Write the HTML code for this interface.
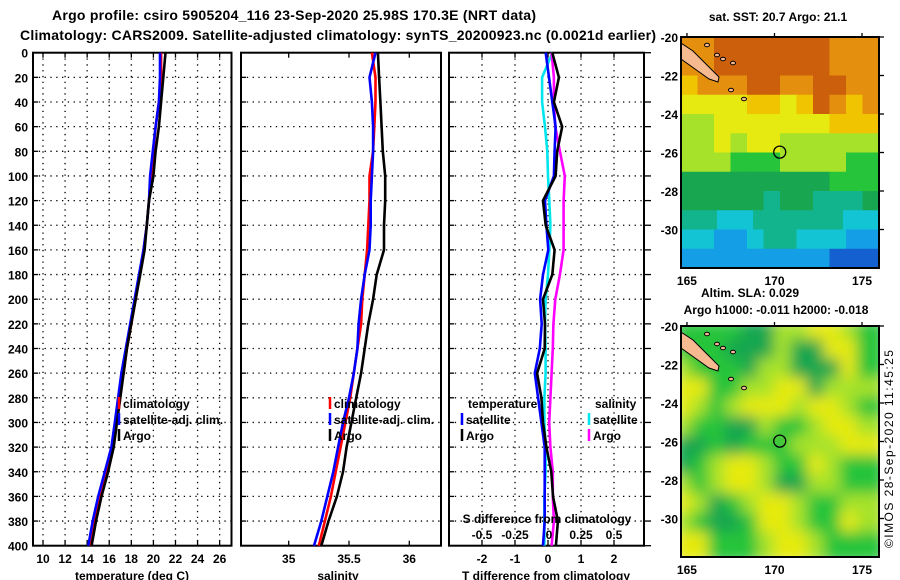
<!DOCTYPE html>
<html><head><meta charset="utf-8"><style>
html,body{margin:0;padding:0;background:#fff;}
svg{display:block;font-family:"Liberation Sans",sans-serif;font-weight:bold;}
</style></head><body>
<svg id="s" width="900" height="580" viewBox="0 0 900 580" xmlns="http://www.w3.org/2000/svg">
<text x="294" y="20" font-size="14" text-anchor="middle" textLength="484">Argo profile: csiro 5905204_116 23-Sep-2020 25.98S 170.3E (NRT data)</text>
<text x="338" y="40" font-size="14" text-anchor="middle" textLength="636">Climatology: CARS2009. Satellite-adjusted climatology: synTS_20200923.nc (0.0021d earlier)</text>
<g id="plots"></g>
<g id="maps"></g>
<text transform="translate(893,548) rotate(-90)" font-size="12" font-weight="normal" textLength="198">©IMOS 28-Sep-2020 11:45:25</text>
</svg>
<script>
// ---- data ----
const depths=[0,20,40,60,80,100,120,140,160,180,200,220,240,260,280,300,320,340,360,380,400];
const tempClim=[20.7,20.7,20.5,20.2,20.0,19.8,19.6,19.4,19.1,18.75,18.4,18.0,17.6,17.3,16.9,16.6,16.3,15.7,15.1,14.6,14.3];
const tempSat=[20.6,20.6,20.5,20.2,19.95,19.7,19.6,19.4,19.1,18.7,18.3,17.9,17.5,17.1,16.8,16.5,16.2,15.6,15.0,14.5,14.1];
const tempArgo=[21.1,20.9,20.7,20.5,20.2,20.0,19.6,19.4,19.2,18.8,18.4,18.0,17.6,17.3,17.0,16.7,16.4,15.9,15.3,14.8,14.4];
const salClim=[35.69,35.72,35.72,35.71,35.70,35.67,35.67,35.66,35.65,35.63,35.61,35.60,35.57,35.54,35.51,35.47,35.43,35.39,35.35,35.30,35.25];
const salSat=[35.72,35.67,35.69,35.70,35.70,35.69,35.68,35.68,35.67,35.63,35.60,35.58,35.57,35.54,35.50,35.45,35.41,35.37,35.32,35.27,35.21];
const salArgo=[35.74,35.75,35.76,35.77,35.78,35.80,35.80,35.79,35.79,35.73,35.70,35.66,35.63,35.60,35.56,35.52,35.48,35.45,35.40,35.33,35.27];
const tDiffSat=[-0.07,0.03,0.13,0.23,0.2,0.18,-0.09,-0.05,0.01,-0.15,-0.24,-0.19,-0.25,-0.4,-0.3,-0.2,-0.1,-0.1,-0.1,-0.1,-0.15];
const tDiffArgo=[0.13,0.33,0.18,0.43,0.28,0.23,-0.15,-0.07,0.2,0.13,-0.15,-0.09,-0.1,-0.33,-0.2,-0.15,-0.05,0.1,0.15,0.3,0.24];
const sDiffSat=[0.033,-0.045,-0.045,-0.023,-0.005,0,0.01,0.018,0.01,0,-0.018,-0.023,-0.018,-0.018,-0.027,-0.027,-0.018,-0.018,-0.027,-0.027,-0.027];
const sDiffArgo=[0.027,0.045,0.045,0.055,0.09,0.127,0.118,0.118,0.118,0.09,0.055,0.041,0.036,0.027,0.018,0.009,0.018,0.036,0.036,0.045,0.027];
const depthTicks=[0,20,40,60,80,100,120,140,160,180,200,220,240,260,280,300,320,340,360,380,400];
const tempTicks=[10,12,14,16,18,20,22,24,26];
const salTicks=[35,35.5,36];
const salTickLabels=["35","35.5","36"];
const tdTicks=[-2,-1,0,1,2];
const sdTicks=[-0.5,-0.25,0,0.25,0.5];
const sdTickLabels=["-0.5","-0.25","0","0.25","0.5"];
// ---- axes ----
const NS="http://www.w3.org/2000/svg";
const Y0=52.7,Y1=545.7;
const yD=d=>Y0+d*(Y1-Y0)/400;
const xT=t=>43+(t-10)*11.04;
const xS=s=>288.7+(s-35)*120.6;
const xTD=v=>548+v*33;
const xSD=v=>548+v*132;
const plots=document.getElementById('plots');
function mk(tag,attrs,parent){const e=document.createElementNS(NS,tag);for(const k in attrs)e.setAttribute(k,attrs[k]);(parent||plots).appendChild(e);return e;}
function txt(x,y,s,anchor,size,parent){const e=mk('text',{x:x,y:y,'font-size':size||12,'text-anchor':anchor||'start'},parent);e.textContent=s;return e;}
function panel(x0,x1,name,vgrid){
  const g=mk('g',{});
  
  
  depthTicks.forEach(d=>{if(d>0&&d<400){mk('line',{x1:x0,x2:x1,y1:yD(d),y2:yD(d),stroke:'#000','stroke-width':1.3,'stroke-dasharray':'1.3 4.5'},g);
    mk('line',{x1:x0,x2:x0+5,y1:yD(d),y2:yD(d),stroke:'#000','stroke-width':1.3},g);}});
  vgrid.forEach(x=>{mk('line',{x1:x,x2:x,y1:Y0,y2:Y1,stroke:'#000','stroke-width':1.3,'stroke-dasharray':'1.3 4.5'},g);
    mk('line',{x1:x,x2:x,y1:Y0,y2:Y0+5,stroke:'#000','stroke-width':1.3},g);mk('line',{x1:x,x2:x,y1:Y1,y2:Y1-5,stroke:'#000','stroke-width':1.3},g);});
  mk('rect',{x:x0,y:Y0,width:x1-x0,height:Y1-Y0,fill:'none',stroke:'#000','stroke-width':2},g);
  return g;
}
function series(arr,xf,color,name,g){
  const pts=arr.map((v,i)=>xf(v).toFixed(1)+','+yD(depths[i]).toFixed(1)).join(' ');
  const p=mk('polyline',{points:pts,fill:'none',stroke:color,'stroke-width':2.6,'stroke-linejoin':'miter'},g);
  
  
}
function legendEntry(x,y,color,label,g,name){
  const e=mk('g',{},g);
  
  
  mk('line',{x1:x,x2:x,y1:y-11,y2:y+1,stroke:color,'stroke-width':2.5},e);
  txt(x+4,y,label,'start',12,e);
}
// panel 1
const g1=panel(33,231.5,'temperature-panel',tempTicks.map(xT));
series(tempClim,xT,'#ff0000','temp-climatology-line',g1);
series(tempSat,xT,'#0000ff','temp-satellite-line',g1);
series(tempArgo,xT,'#000000','temp-argo-line',g1);
depthTicks.forEach(d=>{const t=txt(28,yD(d)+5,String(d),'end',12);});
tempTicks.forEach(t=>{const e=txt(xT(t),563,String(t),'middle',12);});
const xt1=txt(132,580,'temperature (deg C)','middle',12);
legendEntry(119,408,'#ff0000','climatology',g1,'legend-climatology');
legendEntry(119,424,'#0000ff','satellite-adj. clim.',g1,'legend-satellite-adj');
legendEntry(119,440,'#000000','Argo',g1,'legend-argo');
// panel 2
const g2=panel(241,441,'salinity-panel',[]);
salTicks.forEach(s=>{mk('line',{x1:xS(s),x2:xS(s),y1:Y0,y2:Y0+5,stroke:'#000','stroke-width':1.3},g2);mk('line',{x1:xS(s),x2:xS(s),y1:Y1,y2:Y1-5,stroke:'#000','stroke-width':1.3},g2);});
series(salClim,xS,'#ff0000','sal-climatology-line',g2);
series(salSat,xS,'#0000ff','sal-satellite-line',g2);
series(salArgo,xS,'#000000','sal-argo-line',g2);
salTicks.forEach((s,i)=>{const e=txt(xS(s),563,salTickLabels[i],'middle',12);});
const xt2=txt(338,580,'salinity','middle',12);
legendEntry(330,408,'#ff0000','climatology',g2,'legend-climatology-2');
legendEntry(330,424,'#0000ff','satellite-adj. clim.',g2,'legend-satellite-adj-2');
legendEntry(330,440,'#000000','Argo',g2,'legend-argo-2');
// panel 3
const g3=panel(449,644,'difference-panel',tdTicks.map(xTD));
depthTicks.forEach(d=>{mk('line',{x1:644,x2:651,y1:yD(d),y2:yD(d),stroke:'#000','stroke-width':1.3},g3);});
series(sDiffSat,xSD,'#00e5ee','sdiff-satellite-line',g3);
series(sDiffArgo,xSD,'#ff00ff','sdiff-argo-line',g3);
series(tDiffSat,xTD,'#0000ff','tdiff-satellite-line',g3);
series(tDiffArgo,xTD,'#000000','tdiff-argo-line',g3);
tdTicks.forEach(t=>{const e=txt(xTD(t),563,String(t),'middle',12);});
sdTicks.forEach((t,i)=>{const e=txt(xSD(t)+(i==2?1:0),539,sdTickLabels[i],'middle',12);});
const st=txt(547,523,'S difference from climatology','middle',12);
const xt3=txt(546,580,'T difference from climatology','middle',12);
const lt=txt(468,408,'temperature','start',12);
const ls=txt(595,408,'salinity','start',12);
legendEntry(462,424,'#0000ff','satellite',g3,'legend-t-satellite');
legendEntry(462,440,'#000000','Argo',g3,'legend-t-argo');
legendEntry(589,424,'#00e5ee','satellite',g3,'legend-s-satellite');
legendEntry(589,440,'#ff00ff','Argo',g3,'legend-s-argo');
// ---- maps ----
const maps=document.getElementById('maps');
const pal={a:'#cc5f0c',b:'#e4900e',c:'#f0c400',y:'#e6ea10',l:'#a6e22a',g:'#26c43a',G:'#18a650',t:'#12b48e',s:'#12c4d4',B:'#149ee6',D:'#1460d0'};
const sstGrid=["bbaaaaaaabbb","bbaaaaaaabbb","cbbbaabbaabb","yyyyccycabcb","llyyyyyyyccc","llylyyllllll","lllgggllllgg","GGGGGGGGGggg","GGGGGtGGtttG","ttsstttttss","ssBBsttsssBB","BBBBBBBBBDDD"];
const slaGrid=["ggggGGllyylg","gggGGGlGGyyg","lgggGllGGGyg","yyggllyyGlll","ylglyyylyylg","lggGGlgglyyl","GGgGggglllyy","Gglyylggylgg","lglyylGGllgg","ylGglyylggll","lgGGgyylggyl","yygggl yylggg".replace(' ','')];
function drawMap(x0,y0,w,h,grid,smooth,name){
  const g=mk('g',{},maps);
  
  
  const cid='clip'+name;
  const cp=mk('clipPath',{id:cid},g);mk('rect',{x:x0,y:y0,width:w,height:h},cp);
  const inner=mk('g',{'clip-path':'url(#'+cid+')'},g);
  const tiles=mk('g',smooth?{filter:'url(#blur)'}:{},inner);
  const rows=grid.length;
  for(let r=0;r<rows;r++){const cols=grid[r].length;for(let c=0;c<cols;c++){
    mk('rect',{x:x0+c*w/cols-(smooth?6:0),y:y0+r*h/rows-(smooth?6:0),width:w/cols+(smooth?12:0.6),height:h/rows+(smooth?12:0.6),fill:pal[grid[r][c]]||'#26c43a'},tiles);}}
  mk('polygon',{points:`${x0},${y0+6} ${x0+12},${y0+14} ${x0+26},${y0+28} ${x0+38},${y0+40} ${x0+37},${y0+45} ${x0+28},${y0+42} ${x0+14},${y0+32} ${x0},${y0+22}`,fill:'#f7b98f',stroke:'#000','stroke-width':1},inner);
  [[26,8],[36,18],[42,22],[52,26],[50,53],[63,62]].forEach(p=>mk('ellipse',{cx:x0+p[0],cy:y0+p[1],rx:2.5,ry:1.8,fill:'#f7b98f',stroke:'#000','stroke-width':1},inner));
  mk('circle',{cx:x0+w*(170.3-164.66)/11.31,cy:y0+h*(25.98-20)/12,r:6,fill:'none',stroke:'#000','stroke-width':1.3},g);
  mk('rect',{x:x0,y:y0,width:w,height:h,fill:'none',stroke:'#000','stroke-width':2},g);
  [-20,-22,-24,-26,-28,-30].forEach(l=>{const yy=y0+h*(-20-l)/12;txt(x0-3,yy+5,String(l),'end',12,g);mk('line',{x1:x0+w,x2:x0+w+5,y1:yy,y2:yy,stroke:'#000','stroke-width':1.3},g);});
  [165,170,175].forEach(l=>{const xx=x0+w*(l-164.66)/11.31;txt(xx,y0+h+17,String(l),'middle',12,g);mk('line',{x1:xx,x2:xx,y1:y0,y2:y0-4,stroke:'#000','stroke-width':1.3},g);});
}
const defs=mk('defs',{},maps);const f=mk('filter',{id:'blur',x:'-10%',y:'-10%',width:'120%',height:'120%'},defs);mk('feGaussianBlur',{stdDeviation:7},f);
drawMap(681,37,198,231,sstGrid,false,'sst-map');
drawMap(681,326,198,231,slaGrid,true,'sla-map');
const m1=txt(778,21,'sat. SST: 20.7 Argo: 21.1','middle',12,maps);
const m2=txt(750,297,'Altim. SLA: 0.029','middle',12,maps);
const m3=txt(776,314,'Argo h1000: -0.011 h2000: -0.018','middle',12,maps);
</script>
</body></html>
